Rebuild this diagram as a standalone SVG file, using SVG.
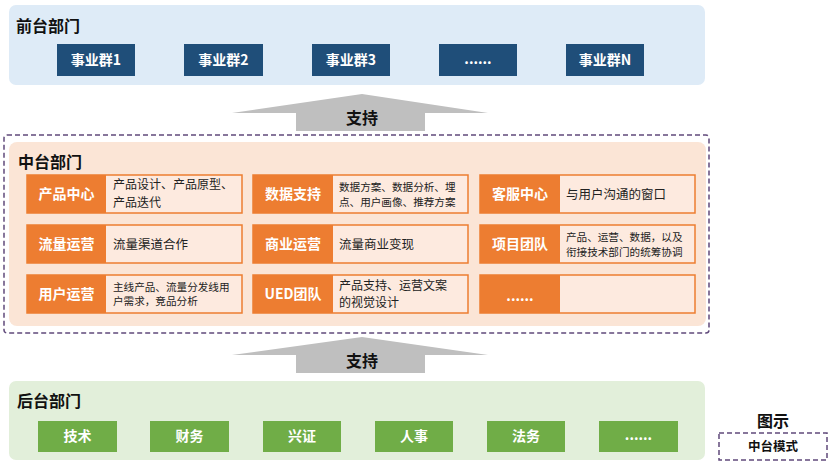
<svg xmlns="http://www.w3.org/2000/svg" width="833" height="466" viewBox="0 0 833 466">
<style>
text{font-family:"Noto Sans CJK SC","Microsoft YaHei",sans-serif}
.h{font-size:16px;font-weight:bold;fill:#111}
.bb{fill:#1F4E79}
.bt{font-size:14px;font-weight:bold;fill:#fff;text-anchor:middle}
.gb{fill:#70AD47}
.card{fill:#FDEADF;stroke:#ED7D31;stroke-width:1.5}
.lab{fill:#ED7D31}
.lt{font-size:14px;font-weight:bold;fill:#fff;text-anchor:middle}
.d{font-size:12.5px;fill:#222}
.d2{font-size:12px;fill:#222}
.s{font-size:10.6px;fill:#222}
.arr{fill:#BFBFBF}
.at{font-size:16px;font-weight:bold;fill:#111;text-anchor:middle}
.dash{fill:none;stroke:#604A7B;stroke-width:1.5;stroke-dasharray:5 3}
</style>

<g id="front">
<rect x="9" y="5" width="696" height="80" rx="7" fill="#DEEBF7"/>
<text class="h" x="16" y="32">前台部门</text>
</g>
<g id="bg1"><rect class="bb" x="57" y="44" width="78" height="32"/><text class="bt" x="96" y="65">事业群1</text></g>
<g id="bg2"><rect class="bb" x="184" y="44" width="79" height="32"/><text class="bt" x="223.5" y="65">事业群2</text></g>
<g id="bg3"><rect class="bb" x="312" y="44" width="78" height="32"/><text class="bt" x="351" y="65">事业群3</text></g>
<g id="bg4"><rect class="bb" x="439" y="44" width="78" height="32"/><text class="bt" x="478" y="64">......</text></g>
<g id="bgN"><rect class="bb" x="566" y="44" width="78" height="32"/><text class="bt" x="605" y="65">事业群N</text></g>

<g id="connectors">
<polygon class="arr" points="362,94 488,113 425,113 425,131 296,131 296,113 232,113"/>
<text class="at" x="362" y="124">支持</text>
<polygon class="arr" points="362,337 488,355 425,355 425,373 296,373 296,355 232,355"/>
<text class="at" x="362" y="367">支持</text>
</g>

<g id="middle">
<rect class="dash" x="4" y="135" width="705" height="198" rx="3"/>
<rect x="9" y="142" width="697" height="184" rx="8" fill="#FBE5D6"/>
<text class="h" x="18" y="168">中台部门</text>
</g>

<g id="c11">
<rect class="card" x="27" y="175" width="215" height="38"/><rect class="lab" x="27" y="175" width="79" height="38"/>
<text class="lt" x="66.5" y="199">产品中心</text>
<text class="d2" x="113" y="189">产品设计、产品原型、</text><text class="d2" x="113" y="206.5">产品迭代</text>
</g>
<g id="c12">
<rect class="card" x="253" y="175" width="215" height="38"/><rect class="lab" x="253" y="175" width="80" height="38"/>
<text class="lt" x="293" y="199">数据支持</text>
<text class="s" x="339" y="191">数据方案、数据分析、埋</text><text class="s" x="339" y="205.5">点、用户画像、推荐方案</text>
</g>
<g id="c13">
<rect class="card" x="480" y="175" width="215" height="38"/><rect class="lab" x="480" y="175" width="80" height="38"/>
<text class="lt" x="520" y="199">客服中心</text>
<text class="d" x="566" y="199">与用户沟通的窗口</text>
</g>
<g id="c21">
<rect class="card" x="27" y="225" width="215" height="38"/><rect class="lab" x="27" y="225" width="79" height="38"/>
<text class="lt" x="66.5" y="249">流量运营</text>
<text class="d" x="113" y="249">流量渠道合作</text>
</g>
<g id="c22">
<rect class="card" x="253" y="225" width="215" height="38"/><rect class="lab" x="253" y="225" width="80" height="38"/>
<text class="lt" x="293" y="249">商业运营</text>
<text class="d" x="339" y="249">流量商业变现</text>
</g>
<g id="c23">
<rect class="card" x="480" y="225" width="215" height="38"/><rect class="lab" x="480" y="225" width="80" height="38"/>
<text class="lt" x="520" y="249">项目团队</text>
<text class="s" x="566" y="241">产品、运营、数据，以及</text><text class="s" x="566" y="255.5">衔接技术部门的统筹协调</text>
</g>
<g id="c31">
<rect class="card" x="27" y="275" width="215" height="38"/><rect class="lab" x="27" y="275" width="79" height="38"/>
<text class="lt" x="66.5" y="299">用户运营</text>
<text class="s" x="113" y="290.5">主线产品、流量分发线用</text><text class="s" x="113" y="305">户需求，竞品分析</text>
</g>
<g id="c32">
<rect class="card" x="253" y="275" width="215" height="38"/><rect class="lab" x="253" y="275" width="80" height="38"/>
<text class="lt" x="293" y="299">UED团队</text>
<text class="d2" x="339" y="289.5">产品支持、运营文案</text><text class="d2" x="339" y="307">的视觉设计</text>
</g>
<g id="c33">
<rect class="card" x="480" y="275" width="215" height="38"/><rect class="lab" x="480" y="275" width="80" height="38"/>
<text class="lt" x="520" y="301">......</text>
</g>

<g id="back">
<rect x="9" y="381" width="696" height="79" rx="7" fill="#E2EFDA"/>
<text class="h" x="17" y="407">后台部门</text>
</g>
<g id="b1"><rect class="gb" x="38" y="421" width="79" height="31"/><text class="bt" x="77.5" y="441">技术</text></g>
<g id="b2"><rect class="gb" x="150" y="421" width="79" height="31"/><text class="bt" x="189.5" y="441">财务</text></g>
<g id="b3"><rect class="gb" x="263" y="421" width="78" height="31"/><text class="bt" x="302" y="441">兴证</text></g>
<g id="b4"><rect class="gb" x="375" y="421" width="78" height="31"/><text class="bt" x="414" y="441">人事</text></g>
<g id="b5"><rect class="gb" x="487" y="421" width="78" height="31"/><text class="bt" x="526" y="441">法务</text></g>
<g id="b6"><rect class="gb" x="599" y="421" width="79" height="31"/><text class="bt" x="638.5" y="440">......</text></g>

<g id="legend">
<text x="773" y="427" font-size="16" font-weight="bold" fill="#111" text-anchor="middle">图示</text>
<rect class="dash" x="719" y="433" width="108" height="27"/>
<text x="773" y="451" font-size="12.5" font-weight="bold" fill="#111" text-anchor="middle">中台模式</text>
</g>
</svg>
